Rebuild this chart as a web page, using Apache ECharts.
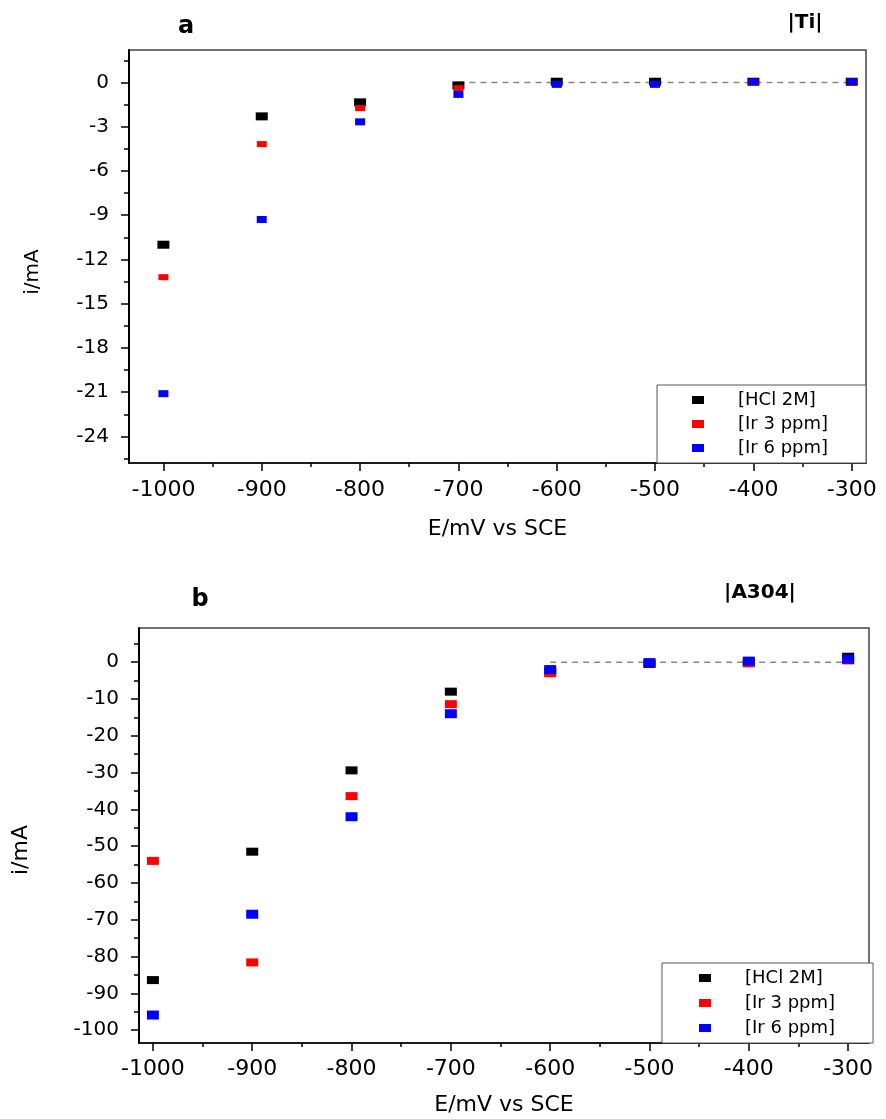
<!DOCTYPE html>
<html>
<head>
<meta charset="utf-8">
<script src="https://cdn.jsdelivr.net/npm/echarts@6/dist/echarts.min.js"></script>
<style>
html,body{margin:0;padding:0;background:#fff;}
#chart{width:886px;height:1119px;}
</style>
</head>
<body>
<div id="chart"></div>
<script>
// ---- data ----
const potentials = [-1000, -900, -800, -700, -600, -500, -400, -300];
const seriesNames = ['[HCl 2M]', '[Ir 3 ppm]', '[Ir 6 ppm]'];
// panel a : |Ti|
const tiHCl = [-11.0, -2.3, -1.35, -0.2, 0.05, 0.05, 0.05, 0.05];
const tiIr3 = [-13.2, -4.18, -1.74, -0.39, -0.1, -0.1, 0.0, 0.0];
const tiIr6 = [-21.1, -9.29, -2.67, -0.81, -0.13, -0.13, 0.05, 0.05];
const tiBaselineX = [-700, -300];
// panel b : |A304|
const a304HCl = [-86.4, -51.5, -29.4, -8.0, -2.5, -0.5, 0.0, 1.5];
const a304Ir3 = [-54.0, -81.6, -36.4, -11.4, -3.0, -0.3, -0.3, 0.5];
const a304Ir6 = [-95.9, -68.5, -42.0, -14.0, -2.0, -0.1, 0.3, 0.8];
const a304BaselineX = [-600, -300];
// tick labels
const xTicks = [-1000, -900, -800, -700, -600, -500, -400, -300];
const xMinorTicks = [-950, -850, -750, -650, -550, -450, -350];
const tiYTicks = [0, -3, -6, -9, -12, -15, -18, -21, -24];
const tiYMinorTicks = [1.5, -1.5, -4.5, -7.5, -10.5, -13.5, -16.5, -19.5, -22.5, -25.5];
const a304YTicks = [0, -10, -20, -30, -40, -50, -60, -70, -80, -90, -100];
const a304YMinorTicks = [5, -5, -15, -25, -35, -45, -55, -65, -75, -85, -95];

// ---- chart ----
const FONT = 'DejaVu Sans';
const colors = ['#000000', '#ff0000', '#0000ff'];
const plain = v => String(v);

const grids = [
  {left: 129, top: 50, width: 737, height: 413},
  {left: 139, top: 628, width: 730, height: 415}
];

function mainX(gridIndex, min, max, labelMargin, nameGap) {
  return {
    type: 'value', gridIndex, min, max,
    axisLine: {onZero: false, lineStyle: {color: '#000', width: 1.5}},
    axisTick: {inside: false, length: 8, customValues: xTicks, lineStyle: {color: '#000', width: 1.5}},
    axisLabel: {customValues: xTicks, formatter: plain, margin: labelMargin, fontSize: 22, color: '#000', fontFamily: FONT},
    splitLine: {show: false},
    name: 'E/mV vs SCE', nameLocation: 'middle', nameGap,
    nameTextStyle: {fontSize: 22, color: '#000', fontFamily: FONT}
  };
}
function minorX(gridIndex, min, max) {
  return {
    type: 'value', gridIndex, min, max,
    axisLine: {show: false, onZero: false},
    axisTick: {inside: false, length: 4, customValues: xMinorTicks, lineStyle: {color: '#000', width: 1.5}},
    axisLabel: {show: false},
    splitLine: {show: false}
  };
}
function mainY(gridIndex, min, max, ticks, labelMargin) {
  return {
    type: 'value', gridIndex, min, max,
    axisLine: {show: true, onZero: false, lineStyle: {color: '#000', width: 2}},
    axisTick: {show: true, inside: false, length: 8, customValues: ticks, lineStyle: {color: '#000', width: 1.5}},
    axisLabel: {customValues: ticks, formatter: plain, margin: labelMargin, fontSize: 20, color: '#000', fontFamily: FONT},
    splitLine: {show: false}
  };
}
function minorY(gridIndex, min, max, ticks) {
  return {
    type: 'value', gridIndex, min, max,
    axisLine: {show: false, onZero: false},
    axisTick: {show: true, inside: false, length: 5, customValues: ticks, lineStyle: {color: '#000', width: 1.5}},
    axisLabel: {show: false},
    splitLine: {show: false}
  };
}

const xA = [-1035, -285.5];
const yA = [-25.8, 2.2];
const xB = [-1014, -279];
const yB = [-103.5, 9.3];

function pts(vals) { return potentials.map((x, i) => [x, vals[i]]); }
function scatter(name, vals, color, size, axisIdx) {
  return {
    type: 'scatter', name, data: pts(vals), xAxisIndex: axisIdx, yAxisIndex: axisIdx,
    symbol: 'rect', symbolSize: size, itemStyle: {color, opacity: 1},
    emphasis: {disabled: true}, z: 3
  };
}
function baseline(xs, axisIdx) {
  return {
    type: 'line', name: 'baseline', data: xs.map(x => [x, 0]), xAxisIndex: axisIdx, yAxisIndex: axisIdx,
    symbol: 'none', silent: true, z: 2,
    lineStyle: {color: '#888', width: 1.5, type: [6, 5]}
  };
}
function legend(left, top, gap, padding) {
  return {
    orient: 'vertical', left, top, padding, itemGap: gap,
    itemWidth: 12, itemHeight: 8, icon: 'rect',
    borderColor: '#555', borderWidth: 1, backgroundColor: '#fff',
    data: seriesNames, selectedMode: false,
    textStyle: {fontSize: 18, color: '#000', fontFamily: FONT, padding: [0, 0, 0, 29]}
  };
}

const option = {
  animation: false,
  backgroundColor: '#fff',
  grid: [
    Object.assign({show: true, borderColor: '#444', borderWidth: 1.5}, grids[0]),
    Object.assign({show: true, borderColor: '#444', borderWidth: 1.5}, grids[1]),
    Object.assign({show: false}, grids[0]),
    Object.assign({show: false}, grids[1])
  ],
  xAxis: [
    mainX(0, xA[0], xA[1], 16, 55),
    mainX(1, xB[0], xB[1], 15, 51),
    minorX(2, xA[0], xA[1]),
    minorX(3, xB[0], xB[1])
  ],
  yAxis: [
    mainY(0, yA[0], yA[1], tiYTicks, 20),
    mainY(1, yB[0], yB[1], a304YTicks, 20),
    minorY(2, yA[0], yA[1], tiYMinorTicks),
    minorY(3, yB[0], yB[1], a304YMinorTicks)
  ],
  legend: [
    legend(657, 385, 6, [6, 38, 6, 35]),
    legend(662, 963, 7, [6, 38, 6, 37])
  ],
  graphic: [
    {type: 'text', x: 186, y: 27, style: {text: 'a', font: 'bold 24px "DejaVu Sans"', align: 'center', verticalAlign: 'middle', fill: '#000'}},
    {type: 'text', x: 805, y: 23, style: {text: '|Ti|', font: 'bold 20px "DejaVu Sans"', align: 'center', verticalAlign: 'middle', fill: '#000'}},
    {type: 'text', x: 200, y: 600, style: {text: 'b', font: 'bold 24px "DejaVu Sans"', align: 'center', verticalAlign: 'middle', fill: '#000'}},
    {type: 'text', x: 760, y: 593, style: {text: '|A304|', font: 'bold 20px "DejaVu Sans"', align: 'center', verticalAlign: 'middle', fill: '#000'}},
    {type: 'text', x: 33, y: 272, rotation: Math.PI / 2, style: {text: 'i/mA', font: '20px "DejaVu Sans"', align: 'center', verticalAlign: 'middle', fill: '#000'}},
    {type: 'text', x: 21, y: 850, rotation: Math.PI / 2, style: {text: 'i/mA', font: '22px "DejaVu Sans"', align: 'center', verticalAlign: 'middle', fill: '#000'}}
  ],
  series: [
    baseline(tiBaselineX, 0),
    scatter(seriesNames[0], tiHCl, colors[0], [12, 8], 0),
    scatter(seriesNames[1], tiIr3, colors[1], [10, 6], 0),
    scatter(seriesNames[2], tiIr6, colors[2], [10, 7], 0),
    baseline(a304BaselineX, 1),
    scatter(seriesNames[0], a304HCl, colors[0], [12, 8], 1),
    scatter(seriesNames[1], a304Ir3, colors[1], [12, 8], 1),
    scatter(seriesNames[2], a304Ir6, colors[2], [12, 9], 1)
  ]
};

const chart = echarts.init(document.getElementById('chart'), null, {renderer: 'canvas'});
chart.setOption(option);
</script>
</body>
</html>
